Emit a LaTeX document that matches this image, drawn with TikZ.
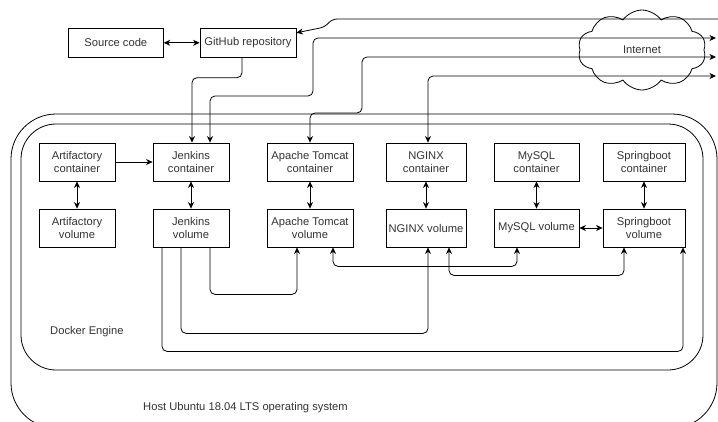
\documentclass[tikz,border=0pt]{standalone}
\usepackage{fontspec}
\setmainfont{Liberation Sans}
\usetikzlibrary{arrows.meta,shapes.symbols}

\begin{document}
\begin{tikzpicture}[
    x=1pt, y=-1pt,
    box/.style={draw, line width=0.8pt, minimum height=38pt, inner sep=1pt, text=black!80,
                align=center, font=\fontsize{11.2}{13}\selectfont},
    arrow/.style={-{Stealth[length=6.5pt,width=6pt,inset=2pt]}, line width=0.8pt, rounded corners=5pt},
    twoway/.style={{Stealth[length=6.5pt,width=6pt,inset=2pt]}-{Stealth[length=6.5pt,width=6pt,inset=2pt]},
                   line width=0.8pt, rounded corners=5pt},
    shell/.style={draw, line width=0.8pt},
    shelltext/.style={anchor=west, inner sep=0pt, text=black!80, font=\fontsize{11.2}{13}\selectfont},
  ]
    \clip (0,0) rectangle (718,421);
    \useasboundingbox (0,0) rectangle (718,421);

    % host and docker frames
    \draw[shell, rounded corners=45pt] (11,114) rectangle (717,428);
    \draw[shell, rounded corners=35pt] (21,124) rectangle (703,370);
    \node[shelltext] (dockertxt) at (50,332) {Docker Engine};
    \node[shelltext] (hosttxt) at (143,408) {Host Ubuntu 18.04 LTS operating system};

    % outside
    \node[box, minimum width=95pt, minimum height=29pt] (src) at (115.8,42.8) {Source code};
    \node[box, minimum width=96pt, minimum height=29pt] (git) at (248,42.8) {GitHub repository};
    \node[draw, line width=0.8pt, cloud, cloud puffs=10, cloud puff arc=110, aspect=1.6, text=black!80,
          minimum width=128pt, minimum height=80pt, font=\fontsize{11.2}{13}\selectfont] (net) at (642,50) {Internet};
    \coordinate (out1) at (718,19);
    \coordinate (out2) at (716,38);
    \coordinate (out3) at (716,57);
    \coordinate (out4) at (716,76);

    % containers
    \node[box, minimum width=76pt] (afc) at (77,162)    {Artifactory\\container};
    \node[box, minimum width=76pt] (jc)  at (191,162)   {Jenkins\\container};
    \node[box, minimum width=86pt] (tc)  at (310,162)   {Apache Tomcat\\container};
    \node[box, minimum width=80pt] (nc)  at (426,162)   {NGINX\\container};
    \node[box, minimum width=85pt] (mc)  at (536.5,162) {MySQL\\container};
    \node[box, minimum width=82pt] (sc)  at (644,162)   {Springboot\\container};

    % volumes
    \node[box, minimum width=76pt] (afv) at (77,228)    {Artifactory\\volume};
    \node[box, minimum width=76pt] (jv)  at (191,228)   {Jenkins\\volume};
    \node[box, minimum width=86pt] (tv)  at (310,228)   {Apache Tomcat\\volume};
    \node[box, minimum width=80pt] (nv)  at (426,228)   {NGINX volume};
    \node[box, minimum width=85pt] (mv)  at (536.5,228) {MySQL volume};
    \node[box, minimum width=82pt] (sv)  at (644,228)   {Springboot\\volume};

    \draw[twoway] (src) -- (git);
    \draw[arrow] (afc) -- (jc);
    \foreach \c/\v in {afc/afv, jc/jv, tc/tv, nc/nv, mc/mv, sc/sv}
      \draw[twoway] (\c) -- (\v);
    \draw[twoway] (mv) -- (sv);

    % links to the outside
    \draw[arrow] (out1) -- (332,19) -- (325,27) -- ([yshift=10pt]git.east);
    \draw[arrow] ([xshift=-6pt]git.south) -- ++(0,20) -| ([xshift=1pt]jc.north);
    \draw[twoway] (out2) -| (313,96) -| ([xshift=19pt]jc.north);
    \draw[twoway] (out3) -| (362,113) -| (tc.north);
    \draw[twoway] (out4) -| ([xshift=2pt]nc.north);

    % links between volumes
    \draw[arrow] ([xshift=19pt]jv.south) -- ++(0,47) -| ([xshift=-13pt]tv.south);
    \draw[arrow] ([xshift=-10pt]jv.south) -- ++(0,86) -| ([xshift=2pt]nv.south);
    \draw[arrow] ([xshift=-29pt]jv.south) -- ++(0,104) -| ([xshift=39pt]sv.south);
    \draw[twoway] ([xshift=23pt]tv.south) -- ++(0,19) -| ([xshift=-19.5pt]mv.south);
    \draw[twoway] ([xshift=23pt]nv.south) -- ++(0,28) -| ([xshift=-20pt]sv.south);
  \end{tikzpicture}
\end{document}
